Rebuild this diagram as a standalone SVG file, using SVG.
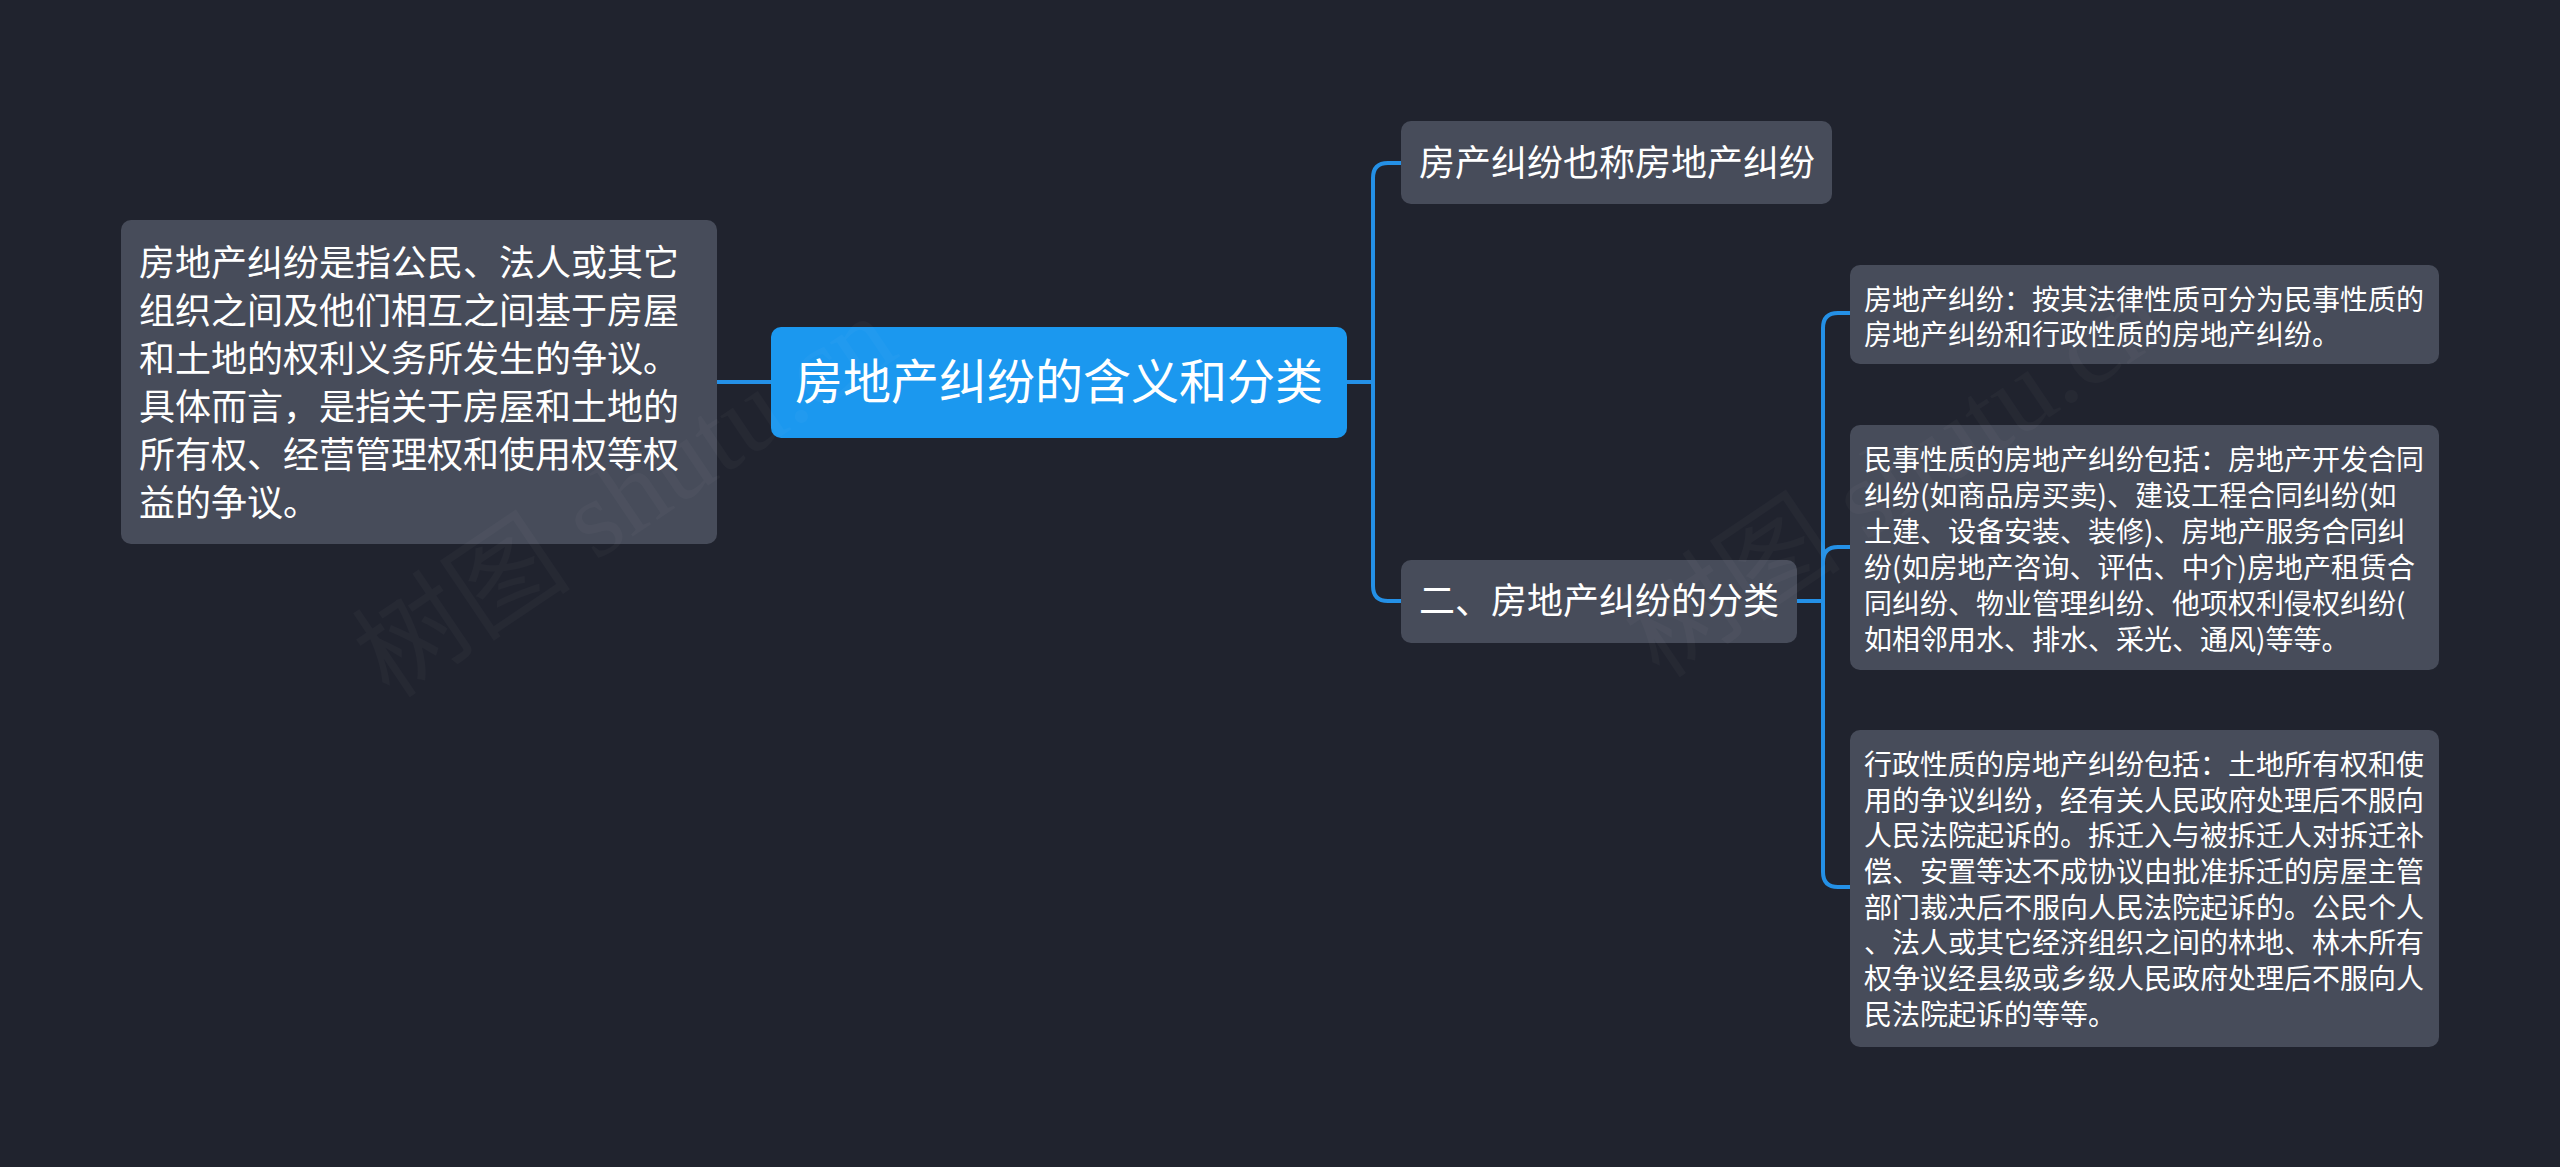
<svg xmlns="http://www.w3.org/2000/svg" width="2560" height="1167" viewBox="0 0 2560 1167">
<style>
  .bg { fill: #20232e; }
  .node { fill: #474c5a; }
  .root { fill: #1b98ef; }
  .t { font-family: "Noto Sans CJK SC", "Noto Sans", sans-serif; fill: #ffffff; }
  .t36 { font-size: 36px; }
  .t28 { font-size: 28px; }
  .t48 { font-size: 48px; }
  .link { fill: none; stroke: #2490e6; stroke-width: 4; stroke-linecap: round; }
  .wm { font-family: "Liberation Serif", "Noto Sans CJK SC", serif; font-size: 110px; fill: #ffffff; opacity: 0.025; }
</style>
<rect class="bg" x="0" y="0" width="2560" height="1167"/>

<g id="connectors">
  <path class="link" d="M717,382 H771"/>
  <path class="link" d="M1347,382 H1373"/>
  <path class="link" d="M1401,163 H1388 Q1373,163 1373,178 V586 Q1373,601 1388,601 H1401"/>
  <path class="link" d="M1797,601 H1823"/>
  <path class="link" d="M1850,313 H1838 Q1823,313 1823,328 V872 Q1823,887 1838,887 H1850"/>
  <path class="link" d="M1823,601 V562 Q1823,547 1838,547 H1850"/>
</g>

<g id="node-left">
  <rect class="node" x="121" y="220" width="596" height="324" rx="10"/>
  <text class="t t36" x="139" y="276">房地产纠纷是指公民、法人或其它</text>
  <text class="t t36" x="139" y="324">组织之间及他们相互之间基于房屋</text>
  <text class="t t36" x="139" y="372">和土地的权利义务所发生的争议。</text>
  <text class="t t36" x="139" y="420">具体而言，是指关于房屋和土地的</text>
  <text class="t t36" x="139" y="468">所有权、经营管理权和使用权等权</text>
  <text class="t t36" x="139" y="516">益的争议。</text>
</g>

<g id="node-root">
  <rect class="root" x="771" y="327" width="576" height="111" rx="10"/>
  <text class="t t48" x="1059" y="399" text-anchor="middle">房地产纠纷的含义和分类</text>
</g>

<g id="node-top">
  <rect class="node" x="1401" y="121" width="431" height="83" rx="10"/>
  <text class="t t36" x="1419" y="176">房产纠纷也称房地产纠纷</text>
</g>

<g id="node-class">
  <rect class="node" x="1401" y="560" width="396" height="83" rx="10"/>
  <text class="t t36" x="1419" y="614">二、房地产纠纷的分类</text>
</g>

<g id="leaf-1">
  <rect class="node" x="1850" y="265" width="589" height="99" rx="10"/>
  <text class="t t28" x="1864" y="310">房地产纠纷：按其法律性质可分为民事性质的</text>
  <text class="t t28" x="1864" y="345">房地产纠纷和行政性质的房地产纠纷。</text>
</g>

<g id="leaf-2">
  <rect class="node" x="1850" y="425" width="589" height="245" rx="10"/>
  <text class="t t28" x="1864" y="470">民事性质的房地产纠纷包括：房地产开发合同</text>
  <text class="t t28" x="1864" y="506">纠纷(如商品房买卖)、建设工程合同纠纷(如</text>
  <text class="t t28" x="1864" y="542">土建、设备安装、装修)、房地产服务合同纠</text>
  <text class="t t28" x="1864" y="578">纷(如房地产咨询、评估、中介)房地产租赁合</text>
  <text class="t t28" x="1864" y="614">同纠纷、物业管理纠纷、他项权利侵权纠纷(</text>
  <text class="t t28" x="1864" y="650">如相邻用水、排水、采光、通风)等等。</text>
</g>

<g id="leaf-3">
  <rect class="node" x="1850" y="730" width="589" height="317" rx="10"/>
  <text class="t t28" x="1864" y="775">行政性质的房地产纠纷包括：土地所有权和使</text>
  <text class="t t28" x="1864" y="811">用的争议纠纷，经有关人民政府处理后不服向</text>
  <text class="t t28" x="1864" y="846">人民法院起诉的。拆迁入与被拆迁人对拆迁补</text>
  <text class="t t28" x="1864" y="882">偿、安置等达不成协议由批准拆迁的房屋主管</text>
  <text class="t t28" x="1864" y="918">部门裁决后不服向人民法院起诉的。公民个人</text>
  <text class="t t28" x="1864" y="953">、法人或其它经济组织之间的林地、林木所有</text>
  <text class="t t28" x="1864" y="989">权争议经县级或乡级人民政府处理后不服向人</text>
  <text class="t t28" x="1864" y="1025">民法院起诉的等等。</text>
</g>

<g id="watermarks">
  <text class="wm" transform="translate(390,700) rotate(-34)">树图 shutu.cn</text>
  <text class="wm" transform="translate(1660,680) rotate(-34)">树图 shutu.cn</text>
</g>
</svg>
